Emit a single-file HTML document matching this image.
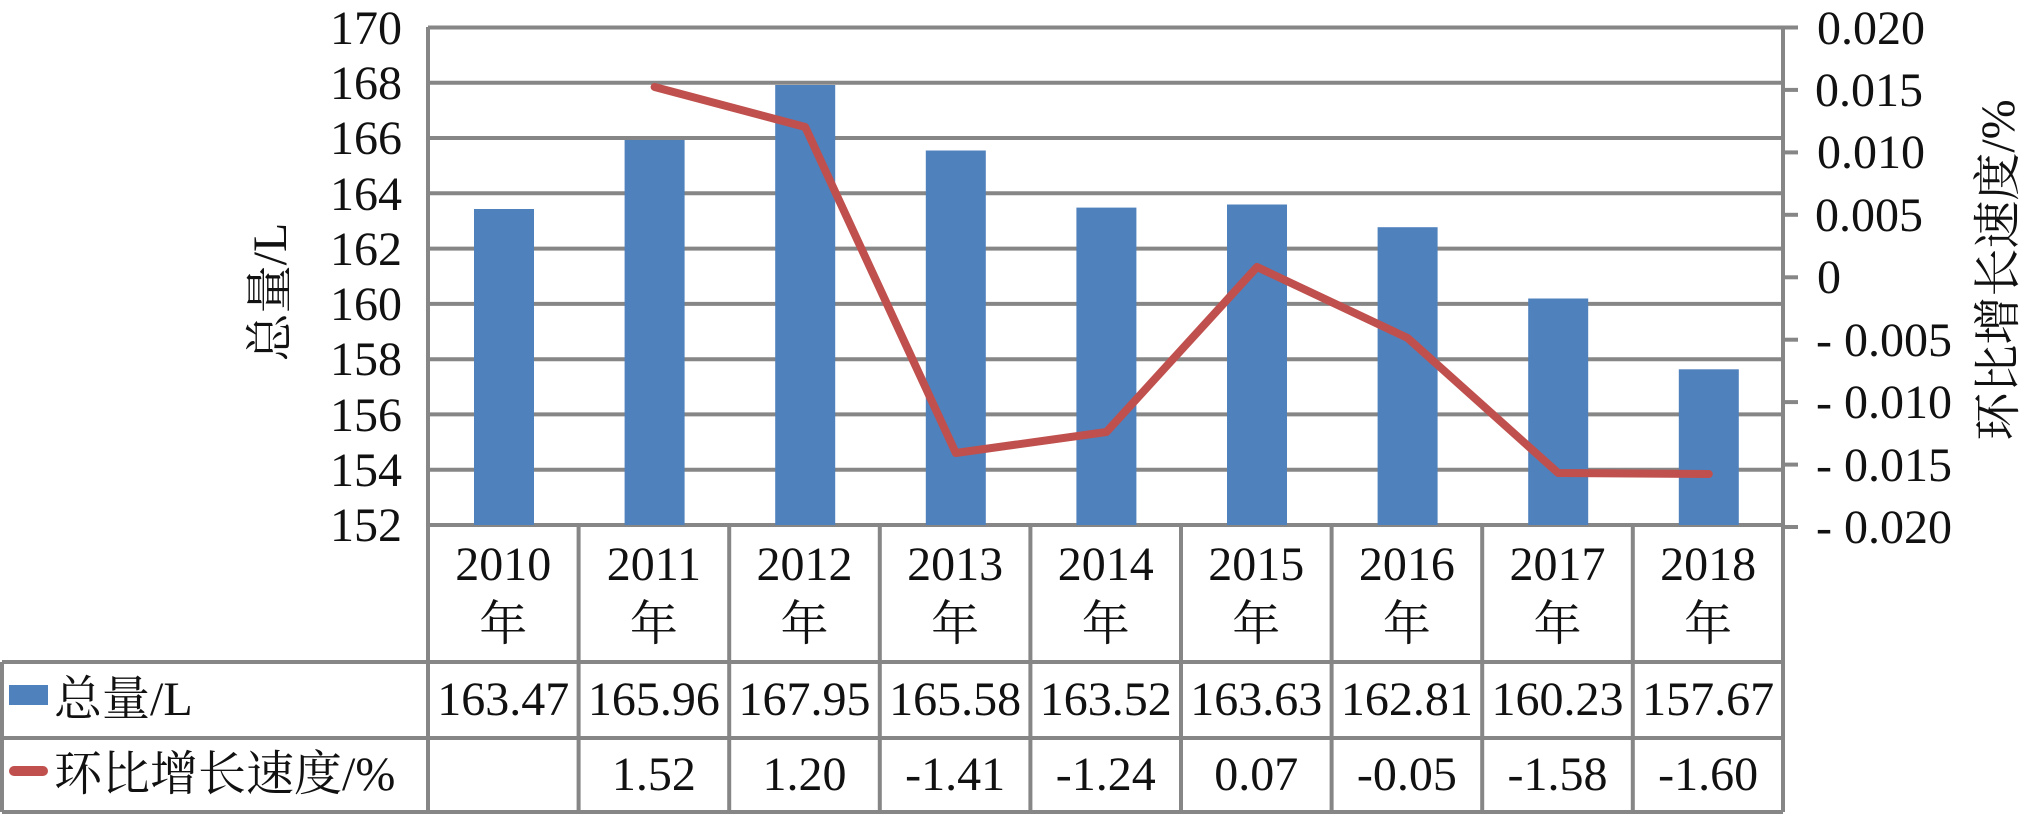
<!DOCTYPE html>
<html><head><meta charset="utf-8"><style>
html,body{margin:0;padding:0;background:#fff;}
svg{display:block;}
text{font-family:"Liberation Serif","Noto Serif CJK SC",serif;fill:#111;}
</style></head><body>
<svg width="2032" height="816" viewBox="0 0 2032 816" xmlns="http://www.w3.org/2000/svg">
<g stroke="#868686" stroke-width="4">
<line x1="428" y1="27.5" x2="1783" y2="27.5"/>
<line x1="428" y1="82.8" x2="1783" y2="82.8"/>
<line x1="428" y1="138" x2="1783" y2="138"/>
<line x1="428" y1="193.3" x2="1783" y2="193.3"/>
<line x1="428" y1="248.6" x2="1783" y2="248.6"/>
<line x1="428" y1="303.9" x2="1783" y2="303.9"/>
<line x1="428" y1="359.2" x2="1783" y2="359.2"/>
<line x1="428" y1="414.4" x2="1783" y2="414.4"/>
<line x1="428" y1="469.7" x2="1783" y2="469.7"/>
<line x1="428" y1="525" x2="1783" y2="525"/>
</g>
<g fill="#4f81bd">
<rect x="474" y="209" width="60" height="316"/>
<rect x="624.6" y="140" width="60" height="385"/>
<rect x="775.2" y="85" width="60" height="440"/>
<rect x="925.8" y="150.5" width="60" height="374.5"/>
<rect x="1076.4" y="207.6" width="60" height="317.4"/>
<rect x="1227" y="204.5" width="60" height="320.5"/>
<rect x="1377.6" y="227.2" width="60" height="297.8"/>
<rect x="1528.2" y="298.5" width="60" height="226.5"/>
<rect x="1678.8" y="369.3" width="60" height="155.7"/>
</g>
<polyline fill="none" stroke="#c0504d" stroke-width="8" stroke-linecap="round" stroke-linejoin="round"
points="654.6,87 805.2,127 955.8,453 1106.4,432 1257,267 1407.6,338 1558.2,473 1708.8,474"/>
<g stroke="#868686" stroke-width="4">
<line x1="428" y1="27" x2="428" y2="812"/>
<line x1="1783" y1="27" x2="1783" y2="812"/>
<line x1="578.6" y1="525" x2="578.6" y2="812"/>
<line x1="729.2" y1="525" x2="729.2" y2="812"/>
<line x1="879.8" y1="525" x2="879.8" y2="812"/>
<line x1="1030.4" y1="525" x2="1030.4" y2="812"/>
<line x1="1181" y1="525" x2="1181" y2="812"/>
<line x1="1331.6" y1="525" x2="1331.6" y2="812"/>
<line x1="1482.2" y1="525" x2="1482.2" y2="812"/>
<line x1="1632.8" y1="525" x2="1632.8" y2="812"/>
<line x1="2" y1="662" x2="1783" y2="662"/>
<line x1="2" y1="738" x2="1783" y2="738"/>
<line x1="2" y1="812" x2="1783" y2="812"/>
<line x1="2" y1="662" x2="2" y2="812"/>
<line x1="1783" y1="27.5" x2="1798" y2="27.5"/>
<line x1="1783" y1="89.9" x2="1798" y2="89.9"/>
<line x1="1783" y1="152.4" x2="1798" y2="152.4"/>
<line x1="1783" y1="214.8" x2="1798" y2="214.8"/>
<line x1="1783" y1="277.3" x2="1798" y2="277.3"/>
<line x1="1783" y1="339.7" x2="1798" y2="339.7"/>
<line x1="1783" y1="402.1" x2="1798" y2="402.1"/>
<line x1="1783" y1="464.6" x2="1798" y2="464.6"/>
<line x1="1783" y1="527" x2="1798" y2="527"/>
</g>
<g font-size="48" text-anchor="end">
<text x="402" y="44">170</text>
<text x="402" y="99">168</text>
<text x="402" y="154">166</text>
<text x="402" y="210">164</text>
<text x="402" y="265">162</text>
<text x="402" y="320">160</text>
<text x="402" y="375">158</text>
<text x="402" y="431">156</text>
<text x="402" y="486">154</text>
<text x="402" y="541">152</text>
</g>
<g font-size="48">
<text x="1817" y="44">0.020</text>
<text x="1815" y="106">0.015</text>
<text x="1817" y="168">0.010</text>
<text x="1815" y="231">0.005</text>
<text x="1817" y="293">0</text>
<text x="1816" y="356">- 0.005</text>
<text x="1816" y="418">- 0.010</text>
<text x="1816" y="481">- 0.015</text>
<text x="1816" y="543">- 0.020</text>
</g>
<text font-size="48" transform="translate(286,292) rotate(-90)" text-anchor="middle">总量/L</text>
<text font-size="48" transform="translate(2014,270) rotate(-90)" text-anchor="middle">环比增长速度/%</text>
<g font-size="48" text-anchor="middle">
<text x="503.3" y="580">2010</text><text x="503.3" y="640">年</text>
<text x="653.9" y="580">2011</text><text x="653.9" y="640">年</text>
<text x="804.5" y="580">2012</text><text x="804.5" y="640">年</text>
<text x="955.1" y="580">2013</text><text x="955.1" y="640">年</text>
<text x="1105.7" y="580">2014</text><text x="1105.7" y="640">年</text>
<text x="1256.3" y="580">2015</text><text x="1256.3" y="640">年</text>
<text x="1406.9" y="580">2016</text><text x="1406.9" y="640">年</text>
<text x="1557.5" y="580">2017</text><text x="1557.5" y="640">年</text>
<text x="1708.1" y="580">2018</text><text x="1708.1" y="640">年</text>
<text x="503.3" y="715">163.47</text>
<text x="653.9" y="715">165.96</text>
<text x="804.5" y="715">167.95</text>
<text x="955.1" y="715">165.58</text>
<text x="1105.7" y="715">163.52</text>
<text x="1256.3" y="715">163.63</text>
<text x="1406.9" y="715">162.81</text>
<text x="1557.5" y="715">160.23</text>
<text x="1708.1" y="715">157.67</text>
<text x="653.9" y="790">1.52</text>
<text x="804.5" y="790">1.20</text>
<text x="955.1" y="790">-1.41</text>
<text x="1105.7" y="790">-1.24</text>
<text x="1256.3" y="790">0.07</text>
<text x="1406.9" y="790">-0.05</text>
<text x="1557.5" y="790">-1.58</text>
<text x="1708.1" y="790">-1.60</text>
</g>
<rect x="9" y="685" width="39" height="20" fill="#4f81bd"/>
<line x1="14" y1="771" x2="43" y2="771" stroke="#c0504d" stroke-width="10" stroke-linecap="round"/>
<g font-size="48">
<text x="54" y="715">总量/L</text>
<text x="54" y="790">环比增长速度/%</text>
</g>
</svg>
</body></html>
